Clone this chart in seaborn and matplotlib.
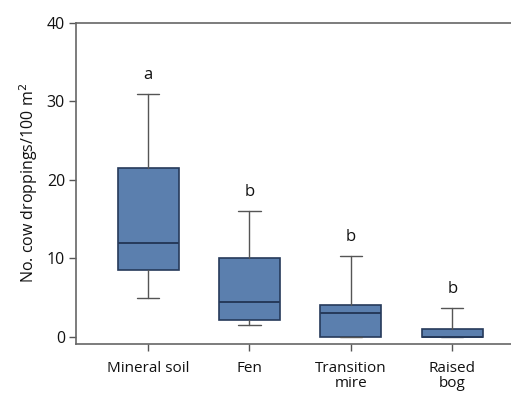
import matplotlib
matplotlib.use('Agg')
import matplotlib.pyplot as plt
import seaborn as sns

# Box statistics
habitats = ['Mineral soil', 'Fen', 'Transition\nmire', 'Raised\nbog']
whisker_low = [5.0, 1.5, 0.0, 0.0]
quart1 = [8.5, 2.2, 0.0, 0.0]
medians = [12.0, 4.5, 3.0, 0.0]
quart3 = [21.5, 10.0, 4.0, 1.0]
whisker_high = [31.0, 16.0, 10.35, 3.7]
letters = ['a', 'b', 'b', 'b']

sns.set_theme(style='white')
plt.rcParams['font.family'] = ['Open Sans', 'DejaVu Sans']
plt.rcParams['text.color'] = '#111111'
plt.rcParams['xtick.color'] = '#111111'
plt.rcParams['ytick.color'] = '#111111'
plt.rcParams['axes.labelcolor'] = '#111111'

fig = plt.figure(figsize=(5.11, 3.94), dpi=100)
ax = fig.add_axes([0.149, 0.127, 0.851, 0.815])

stats = []
for i, name in enumerate(habitats):
    stats.append({'label': name, 'whislo': whisker_low[i], 'q1': quart1[i],
                  'med': medians[i], 'q3': quart3[i], 'whishi': whisker_high[i]})

box_color = '#5b7fae'
edge = '#263a5a'
ax.bxp(stats, positions=range(len(habitats)), widths=0.6, showfliers=False,
       patch_artist=True,
       boxprops=dict(facecolor=box_color, edgecolor=edge, linewidth=1.2),
       medianprops=dict(color=edge, linewidth=1.4),
       whiskerprops=dict(color='#555555', linewidth=1.0),
       capprops=dict(color='#555555', linewidth=1.0),
       capwidths=0.22)

for i, let in enumerate(letters):
    ax.text(i, whisker_high[i] + 1.4, let, ha='center', va='bottom', fontsize=12)

ax.set_xlim(-0.71, 3.58)
ax.set_ylim(-0.9, 40)
ax.set_yticks([0, 10, 20, 30, 40])
ax.set_xticks(range(len(habitats)))
ax.set_xticklabels(habitats, fontsize=11, linespacing=1.05)
ax.tick_params(axis='y', labelsize=11.5, left=True, length=5, width=1, color='#555555', pad=3)
ax.tick_params(axis='x', bottom=True, length=5, width=1, color='#555555', pad=7)
ax.set_ylabel('No. cow droppings/100 m$^2$', fontsize=11.5, labelpad=5)

for side in ['left', 'bottom', 'top']:
    ax.spines[side].set_color('#666666')
    ax.spines[side].set_linewidth(1.2)
ax.spines['right'].set_visible(False)

fig.savefig('out.png', dpi=100)
